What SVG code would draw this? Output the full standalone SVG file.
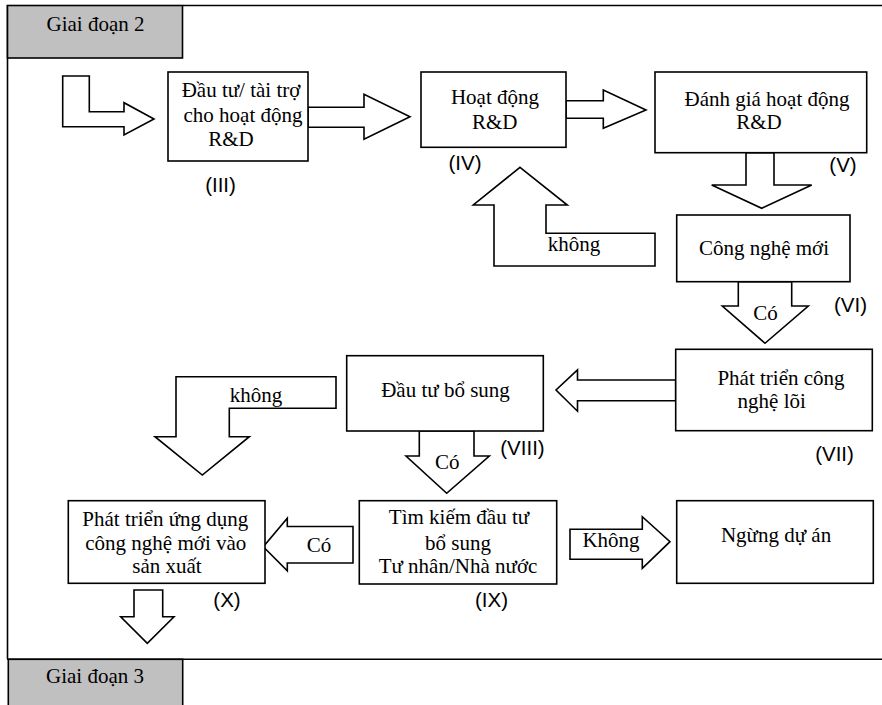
<svg xmlns="http://www.w3.org/2000/svg" width="882" height="705" viewBox="0 0 882 705">
  <style>
    .frame { stroke: #000; stroke-width: 1.6; fill: none; }
    .stage { fill: #c0c0c0; stroke: #000; stroke-width: 1.6; }
    .box { fill: #fff; stroke: #000; stroke-width: 1.6; }
    .arrow { fill: #fff; stroke: #000; stroke-width: 1.6; stroke-linejoin: miter; }
    .t { font-family: "Liberation Serif", "Times New Roman", serif; font-size: 21px; fill: #000; text-anchor: middle; }
    .n { font-family: "Liberation Sans", Arial, sans-serif; font-size: 20.5px; fill: #000; text-anchor: middle; }
  </style>

  <!-- stage frame -->
  <g id="frame">
    <path class="frame" d="M183,5.5 H882 M7.5,5 V659 M7,659.3 H882"/>
  </g>

  <g id="stage2">
    <rect class="stage" x="7.5" y="5.5" width="175" height="52.5"/>
    <text class="t" x="95.5" y="30.7">Giai đoạn 2</text>
  </g>

  <g id="stage3">
    <rect class="stage" x="8.3" y="659.3" width="174.4" height="50"/>
    <text class="t" x="95" y="683.3">Giai đoạn 3</text>
  </g>

  <!-- block arrows -->
  <g id="connectors">
    <!-- entry into stage -->
    <polygon class="arrow" points="62.7,76 89.3,76 89.3,111.7 124,111.7 124,102.7 154,119 124,135 124,126.7 62.7,126.7"/>
    <!-- III -> IV -->
    <polygon class="arrow" points="308,107.3 364,107.3 364,94.3 410,116.7 364,139.3 364,127.3 308,127.3"/>
    <!-- IV -> V -->
    <polygon class="arrow" points="566,100.7 603.3,100.7 603.3,90 646,110 603.3,128.3 603.3,118.3 566,118.3"/>
    <!-- V -> VI -->
    <polygon class="arrow" points="746,152.7 774,152.7 774,185 811.7,185 761.7,208.3 711.7,185 746,185"/>
    <!-- VI -> IV (không) -->
    <polygon class="arrow" points="520,167.3 567.3,205 546,205 546,233.3 655,233.3 655,266 494,266 494,205 473.3,205"/>
    <text class="t" x="574" y="250.7">không</text>
    <!-- VI -> VII (Có) -->
    <polygon class="arrow" points="738.3,281.7 791.7,281.7 791.7,306 808.3,306 765,343.3 722.3,306 738.3,306"/>
    <text class="t" x="765.5" y="320">Có</text>
    <!-- VII -> VIII -->
    <polygon class="arrow" points="675.7,380 577.5,380 577.5,369.8 556,390 577.5,411.2 577.5,400.7 675.7,400.7"/>
    <!-- VIII -> X (không) -->
    <polygon class="arrow" points="176,376.7 336,376.7 336,408.3 229.3,408.3 229.3,436.7 249.3,436.7 202.3,475 155,436.7 176,436.7"/>
    <text class="t" x="256" y="401.7">không</text>
    <!-- VIII -> IX (Có) -->
    <polygon class="arrow" points="419.3,431 474,431 474,456 489.3,456 446.7,493.3 406,456 419.3,456"/>
    <text class="t" x="447.3" y="469.3">Có</text>
    <!-- IX -> X (Có) -->
    <polygon class="arrow" points="353,526.5 287.3,526.5 287.3,518.3 263.3,546.7 287.3,570.7 287.3,563 353,563"/>
    <text class="t" x="319" y="551.7">Có</text>
    <!-- IX -> stop (Không) -->
    <polygon class="arrow" points="570,529.3 642.3,529.3 642.3,516.7 670,541.7 642.3,568.3 642.3,559.3 570,559.3"/>
    <text class="t" x="611" y="546.7">Không</text>
    <!-- X -> stage 3 -->
    <polygon class="arrow" points="134,590 162.7,590 162.7,616.7 174,616.7 147.3,643.3 120.7,616.7 134,616.7"/>
  </g>

  <!-- process steps -->
  <g id="node-iii">
    <rect class="box" x="168" y="72" width="140" height="89"/>
    <text class="t" x="241" y="96.7">Đầu tư/ tài trợ</text>
    <text class="t" x="243" y="121.7">cho hoạt động</text>
    <text class="t" x="231" y="146">R&amp;D</text>
    <text class="n" x="220.5" y="192">(III)</text>
  </g>

  <g id="node-iv">
    <rect class="box" x="421" y="72" width="145" height="75.3"/>
    <text class="t" x="495" y="104">Hoạt động</text>
    <text class="t" x="494.8" y="129">R&amp;D</text>
    <text class="n" x="465" y="170">(IV)</text>
  </g>

  <g id="node-v">
    <rect class="box" x="655" y="72" width="211.7" height="80.7"/>
    <text class="t" x="767" y="105.5">Đánh giá hoạt động</text>
    <text class="t" x="759" y="129">R&amp;D</text>
    <text class="n" x="843" y="172">(V)</text>
  </g>

  <g id="node-vi">
    <rect class="box" x="676.7" y="215" width="173.3" height="66.7"/>
    <text class="t" x="764" y="255">Công nghệ mới</text>
    <text class="n" x="850.5" y="312">(VI)</text>
  </g>

  <g id="node-vii">
    <rect class="box" x="675.7" y="349.3" width="196.6" height="81.4"/>
    <text class="t" x="781" y="385">Phát triển công</text>
    <text class="t" x="771.7" y="408.3">nghệ lõi</text>
    <text class="n" x="834.5" y="461">(VII)</text>
  </g>

  <g id="node-viii">
    <rect class="box" x="346.7" y="355.7" width="196.6" height="75.3"/>
    <text class="t" x="445.5" y="397.3">Đầu tư bổ sung</text>
    <text class="n" x="522.5" y="455">(VIII)</text>
  </g>

  <g id="node-ix">
    <rect class="box" x="359.3" y="500.7" width="197.4" height="83.3"/>
    <text class="t" x="459" y="524">Tìm kiếm đầu tư</text>
    <text class="t" x="458" y="550">bổ sung</text>
    <text class="t" x="458" y="573.3">Tư nhân/Nhà nước</text>
    <text class="n" x="491.5" y="607">(IX)</text>
  </g>

  <g id="node-stop">
    <rect class="box" x="676.7" y="500.7" width="196.6" height="82.6"/>
    <text class="t" x="776" y="541.7">Ngừng dự án</text>
  </g>

  <g id="node-x">
    <rect class="box" x="68.3" y="500.7" width="196.7" height="82.6"/>
    <text class="t" x="165.3" y="526">Phát triển ứng dụng</text>
    <text class="t" x="165.8" y="550">công nghệ mới vào</text>
    <text class="t" x="167" y="573.3">sản xuất</text>
    <text class="n" x="227" y="607">(X)</text>
  </g>
</svg>
